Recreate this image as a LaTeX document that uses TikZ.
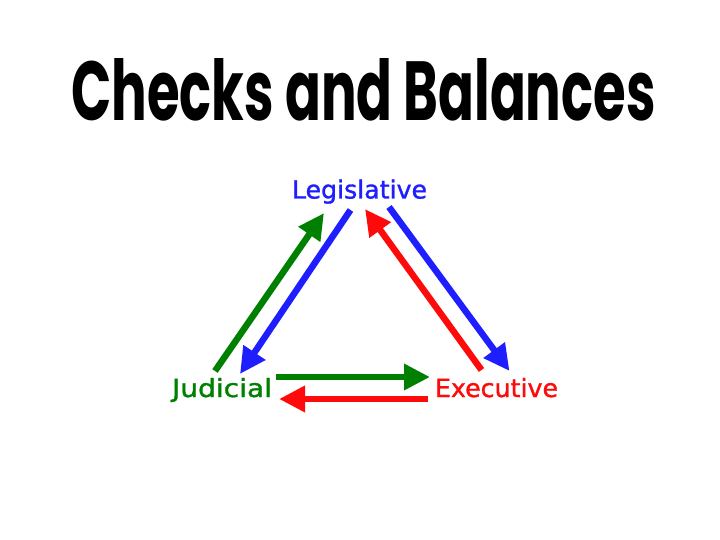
\documentclass[tikz,border=0pt]{standalone}
\usepackage{fontspec}
\setmainfont{DejaVu Sans}
\newfontfamily\lblfont[FakeBold=1.2]{DejaVu Sans}
\newfontfamily\titlefont{Poppins}
\usetikzlibrary{arrows.meta}
\definecolor{cbgreen}{RGB}{0,128,0}
\definecolor{cbblue}{RGB}{30,30,255}
\definecolor{cbred}{RGB}{255,10,10}
\tikzset{
  lbl/.style={anchor=base, inner sep=0pt, font=\lblfont},
  chk/.style={line width=6.5bp, -{Triangle[length=26bp,width=25bp]}, shorten >=0pt},
}
\begin{document}
\begin{tikzpicture}[x=1bp,y=-1bp]
\useasboundingbox (0,0) rectangle (720,540);
\fill[white] (0,0) rectangle (720,540);
\node[anchor=base, inner sep=0pt] (title) at (363.5,121) {\resizebox{584bp}{62bp}{\titlefont\bfseries Checks and Balances}};
\node[lbl, text=cbblue] (leg) at (359.5,198.5) {\resizebox{135bp}{19bp}{Legislative}};
\node[lbl, text=cbgreen] (jud) at (222,397) {\resizebox{100bp}{19bp}{Judicial}};
\node[lbl, text=cbred] (exe) at (496.5,397) {\resizebox{123bp}{19bp}{Executive}};
% arrow end points
\coordinate (g1s) at (215,371);
\coordinate (g1e) at (324,213);
\coordinate (b1s) at (350.5,210);
\coordinate (b1e) at (240,374);
\coordinate (r1s) at (481.5,370);
\coordinate (r1e) at (365,209);
\coordinate (b2s) at (389,207);
\coordinate (b2e) at (509.5,371);
\coordinate (g2s) at (276,377);
\coordinate (g2e) at (430,377);
\coordinate (r2s) at (428,399);
\coordinate (r2e) at (279,399);
\draw[chk, cbgreen] (g1s) -- (g1e);
\draw[chk, cbblue] (b1s) -- (b1e);
\draw[chk, cbred] (r1s) -- (r1e);
\draw[chk, cbblue] (b2s) -- (b2e);
\draw[chk, cbgreen] (g2s) -- (g2e);
\draw[chk, cbred] (r2s) -- (r2e);
\end{tikzpicture}
\end{document}
